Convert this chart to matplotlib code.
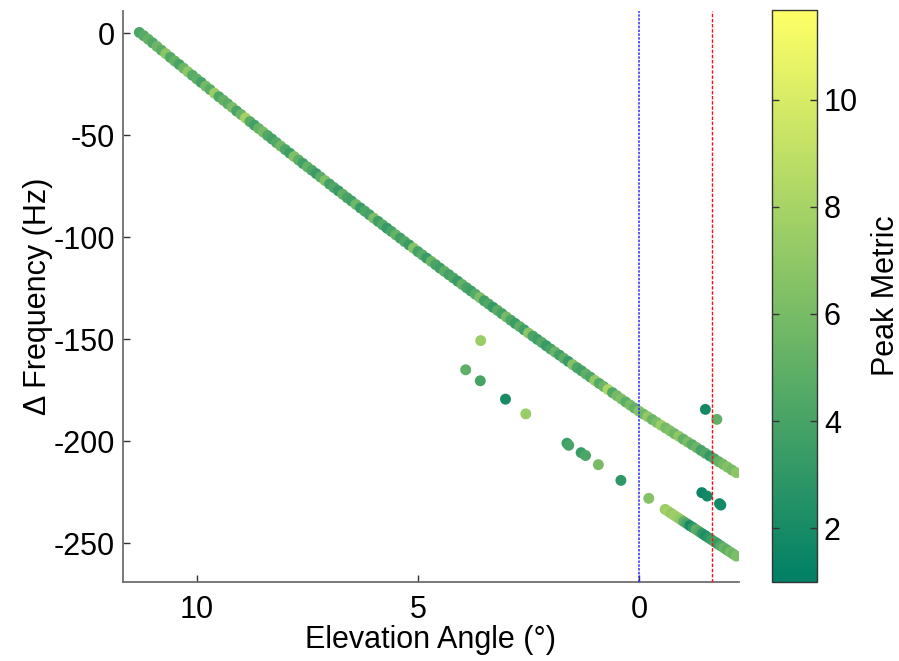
import numpy as np
import matplotlib
matplotlib.use("Agg")
import matplotlib.pyplot as plt

plt.rcParams["font.family"] = ["Liberation Sans", "DejaVu Sans"]
plt.rcParams["axes.unicode_minus"] = False

# main branch: elevation angle (deg), delta frequency (Hz), peak metric
main_angle = [
    11.3, 11.2, 11.1, 11.0, 10.9, 10.8, 10.7, 10.6, 10.5, 10.4,
    10.3, 10.2, 10.1, 10.0, 9.9, 9.8, 9.7, 9.6, 9.5, 9.4,
    9.3, 9.2, 9.1, 9.0, 8.9, 8.8, 8.7, 8.6, 8.5, 8.4,
    8.3, 8.2, 8.1, 8.0, 7.9, 7.8, 7.7, 7.6, 7.5, 7.4,
    7.3, 7.2, 7.1, 7.0, 6.9, 6.8, 6.7, 6.6, 6.5, 6.4,
    6.3, 6.2, 6.1, 6.0, 5.9, 5.8, 5.7, 5.6, 5.5, 5.4,
    5.3, 5.2, 5.1, 5.0, 4.9, 4.8, 4.7, 4.6, 4.5, 4.4,
    4.3, 4.2, 4.1, 4.0, 3.9, 3.8, 3.7, 3.6, 3.5, 3.4,
    3.3, 3.2, 3.1, 3.0, 2.9, 2.8, 2.7, 2.6, 2.5, 2.4,
    2.3, 2.2, 2.1, 2.0, 1.9, 1.8, 1.7, 1.6, 1.5, 1.4,
    1.3, 1.2, 1.1, 1.0, 0.9, 0.8, 0.7, 0.6, 0.5, 0.4,
    0.3, 0.2, 0.1, 0.0, -0.1, -0.2, -0.3, -0.4, -0.5, -0.6,
    -0.7, -0.8, -0.9, -1.0, -1.1, -1.2, -1.3, -1.4, -1.5, -1.6,
    -1.7, -1.8, -1.9, -2.0, -2.1, -2.2,
]
main_freq = [
    0.3, -1.3, -3.0, -4.8, -6.6, -8.4, -10.1, -11.9, -13.7, -15.4,
    -17.2, -19.0, -20.7, -22.5, -24.2, -26.0, -27.7, -29.5, -31.2, -32.9,
    -34.7, -36.4, -38.2, -39.9, -41.6, -43.4, -45.1, -46.8, -48.5, -50.2,
    -51.9, -53.7, -55.4, -57.1, -58.8, -60.5, -62.2, -63.9, -65.6, -67.2,
    -68.9, -70.6, -72.3, -74.0, -75.7, -77.3, -79.0, -80.7, -82.3, -84.0,
    -85.7, -87.3, -89.0, -90.7, -92.3, -94.0, -95.6, -97.2, -98.9, -100.5,
    -102.2, -103.8, -105.4, -107.1, -108.7, -110.3, -111.9, -113.5, -115.2, -116.8,
    -118.4, -120.0, -121.6, -123.2, -124.8, -126.4, -128.0, -129.6, -131.2, -132.8,
    -134.4, -135.9, -137.5, -139.1, -140.7, -142.3, -143.8, -145.4, -147.0, -148.5,
    -150.1, -151.6, -153.2, -154.8, -156.3, -157.8, -159.4, -160.9, -162.5, -164.0,
    -165.5, -167.1, -168.6, -170.2, -171.7, -173.2, -174.7, -176.2, -177.7, -179.3,
    -180.8, -182.3, -183.8, -185.3, -186.7, -188.0, -189.4, -190.8, -192.2, -193.5,
    -194.9, -196.3, -197.6, -199.0, -200.4, -201.7, -203.1, -204.5, -205.9, -207.2,
    -208.6, -210.0, -211.3, -212.7, -214.1, -215.4,
]
main_metric = [
    4.2, 4.6, 5.1, 4.4, 5.6, 4.8, 6.8, 4.5, 5.2, 4.0,
    5.5, 6.9, 4.6, 5.0, 3.9, 5.8, 4.7, 7.4, 4.3, 5.1,
    4.8, 6.2, 4.1, 5.4, 7.8, 4.6, 3.8, 5.3, 6.0, 4.4,
    3.9, 4.5, 5.7, 4.2, 3.6, 6.4, 4.9, 3.7, 5.2, 4.3,
    3.5, 4.8, 6.3, 3.9, 4.4, 3.3, 5.0, 4.1, 3.7, 5.6,
    3.4, 4.2, 3.8, 6.1, 3.6, 4.5, 3.2, 4.0, 5.3, 3.7,
    4.4, 3.5, 6.6, 3.9, 4.7, 3.4, 5.5, 4.1, 3.6, 4.9,
    3.8, 4.3, 3.3, 5.1, 4.0, 3.6, 4.6, 6.2, 3.9, 4.4,
    3.2, 4.7, 3.8, 5.9, 4.2, 3.5, 4.9, 3.7, 6.8, 4.1,
    3.6, 4.5, 3.3, 4.0, 5.4, 3.7, 4.8, 3.4, 6.5, 4.2,
    3.8, 5.0, 4.3, 7.2, 4.6, 5.5, 8.2, 4.4, 5.8, 6.3,
    4.9, 6.0, 5.2, 6.6, 5.7, 7.1, 5.4, 6.2, 7.5, 5.9,
    6.4, 5.6, 7.0, 5.1, 6.1, 4.7, 5.5, 3.9, 4.4, 3.2,
    4.0, 5.2, 5.8, 6.5, 6.0, 6.8,
]

# lower branch (dense tail on the right)
low_angle = [
    -0.59, -0.66, -0.73, -0.80, -0.87, -0.94, -1.01, -1.08, -1.15, -1.22,
    -1.29, -1.36, -1.43, -1.50, -1.57, -1.64, -1.71, -1.78, -1.85, -1.92,
    -1.99, -2.06, -2.13, -2.20,
]
low_freq = [
    -233.4, -234.4, -235.4, -236.4, -237.4, -238.4, -239.4, -240.4, -241.4, -242.3,
    -243.3, -244.3, -245.3, -246.3, -247.3, -248.3, -249.3, -250.3, -251.3, -252.3,
    -253.3, -254.3, -255.3, -256.3,
]
low_metric = [
    7.5, 7.8, 7.2, 7.6, 7.4, 7.0, 5.0, 4.0, 2.0, 3.0,
    5.0, 4.5, 3.0, 2.2, 2.8, 3.5, 4.0, 3.2, 4.5, 5.5,
    4.8, 6.0, 5.5, 6.2,
]

# scattered single detections
stray_angle = [3.92, 3.58, 3.59, 3.02, 2.56, 1.63, 1.59, 1.31, 1.21, 0.92,
               0.41, -0.22, -1.42, -1.54, -1.82, -1.85, -1.50, -1.76]
stray_freq = [-165.0, -150.7, -170.4, -179.4, -186.6, -201.0, -202.0, -205.6, -207.0, -211.5,
              -219.2, -228.0, -225.2, -226.9, -230.6, -231.3, -184.4, -189.3]
stray_metric = [5.0, 7.5, 4.0, 2.0, 7.5, 3.5, 4.0, 3.5, 4.2, 6.0,
                3.0, 6.5, 1.5, 1.8, 1.7, 1.9, 1.8, 5.0]

horizon_angle = 0.0
cutoff_angle = -1.66
metric_min, metric_max = 1.0, 11.67

x = np.array(main_angle + low_angle + stray_angle)
y = np.array(main_freq + low_freq + stray_freq)
c = np.array(main_metric + low_metric + stray_metric)

fig = plt.figure(figsize=(8.99, 6.61), dpi=100)
ax = fig.add_axes([0.1368, 0.1195, 0.6852, 0.8638])
cax = fig.add_axes([0.8587, 0.1195, 0.0501, 0.8653])

sc = ax.scatter(x, y, c=c, cmap="summer", vmin=metric_min, vmax=metric_max,
                s=62, linewidths=0, zorder=2)
ax.axvline(horizon_angle, color="#2a2aff", lw=1.1, ls=(0, (1.6, 0.9)), zorder=3)
ax.axvline(cutoff_angle, color="#ff1010", lw=1.0, ls=(0, (2.5, 1.2)), zorder=3)

ax.set_xlim(11.67, -2.26)
ax.set_ylim(-269, 10.8)
ax.set_xticks([10, 5, 0])
ax.set_yticks([0, -50, -100, -150, -200, -250])

for side in ["top", "right"]:
    ax.spines[side].set_visible(False)
for side in ["left", "bottom"]:
    ax.spines[side].set_color("#6e6e6e")
    ax.spines[side].set_linewidth(1.3)
ax.tick_params(direction="in", length=5, width=1, color="#333333",
               labelsize=22)
ax.tick_params(axis="y", pad=6)
ax.tick_params(axis="x", pad=9)
ax.set_xlabel("Elevation Angle (°)", fontsize=22, labelpad=0)
ax.set_ylabel("Δ Frequency (Hz)", fontsize=22, labelpad=0)

cb = fig.colorbar(sc, cax=cax)
cb.set_ticks([2, 4, 6, 8, 10])
cb.outline.set_edgecolor("#333333")
cb.outline.set_linewidth(1.0)
cax.tick_params(direction="in", left=True, right=True, length=5, width=1,
                color="#333333", labelsize=22, pad=5)
cb.set_label("Peak Metric", fontsize=22, labelpad=9)

fig.savefig("out.png", dpi=100)
